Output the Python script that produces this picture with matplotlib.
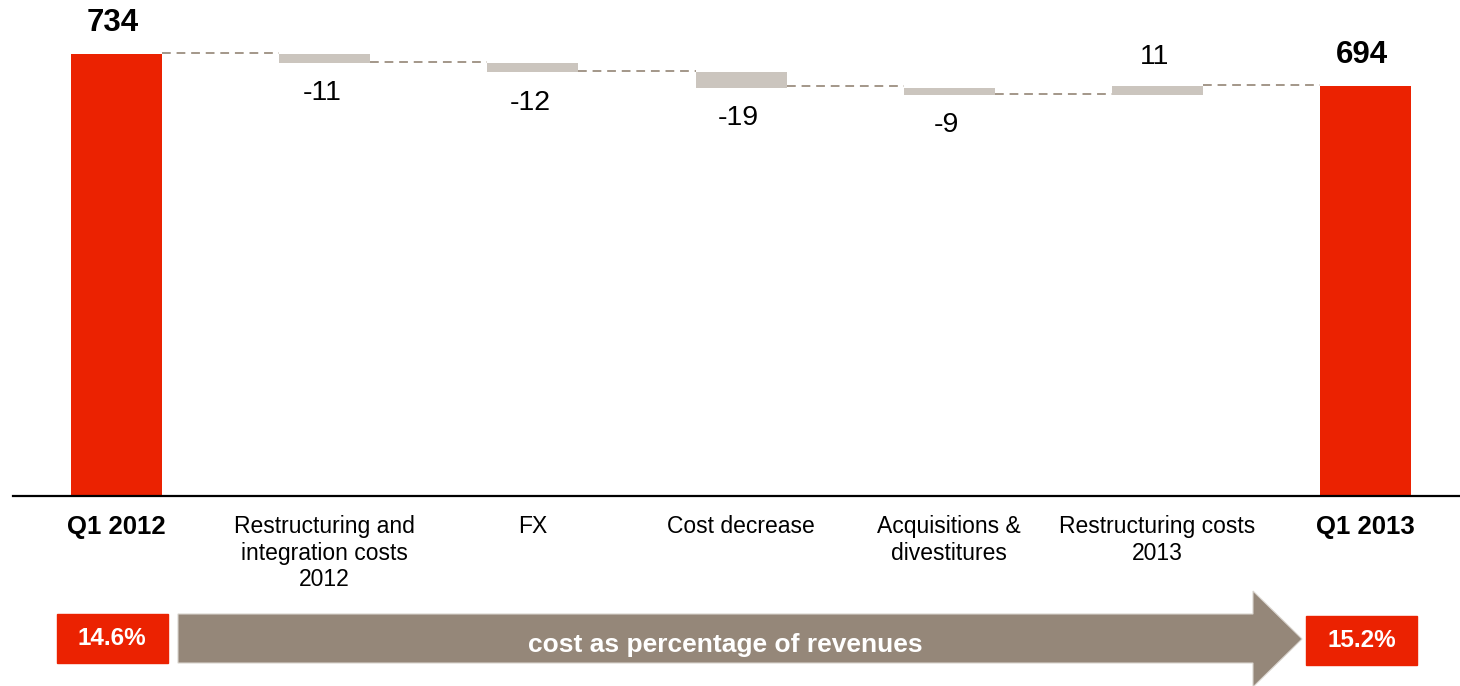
import numpy as np
import matplotlib
matplotlib.use('Agg')
import matplotlib.pyplot as plt
from matplotlib.patches import Rectangle, Polygon
from matplotlib import transforms

plt.rcParams['font.family'] = ['Liberation Sans', 'DejaVu Sans']

# --- data ---
categories = ["Q1 2012", "Restructuring and\nintegration costs\n2012", "FX",
              "Cost decrease", "Acquisitions &\ndivestitures",
              "Restructuring costs\n2013", "Q1 2013"]
start_value = 734
deltas = [-11, -12, -19, -9, 11]
end_value = 694
pct_labels = ["14.6%", "15.2%"]
arrow_text = "cost as percentage of revenues"

RED = '#EB2201'
GREY_BAR = '#CBC5BE'
DASH = '#A39789'
ARROW = '#958779'

fig = plt.figure(figsize=(14.6, 6.86), dpi=100)
W, H = 1460, 686
ax = fig.add_axes([13 / W, 1 - 496 / H, 1 - 13 / W, 496 / H])

x = np.arange(len(categories))
bw = 0.437

# totals
ax.bar(x[0], start_value, width=bw, color=RED, zorder=2)
ax.bar(x[-1], end_value, width=bw, color=RED, zorder=2)

level = start_value
levels = [start_value]
for i, d in enumerate(deltas, start=1):
    new = level + d
    ax.bar(x[i], abs(d), bottom=min(level, new), width=bw, color=GREY_BAR, zorder=2)
    off = -22 if d < 0 else 21
    ax.annotate(f"{d}", (x[i], new), xytext=(-2, off), textcoords='offset points',
                ha='center', va='center', fontsize=20.5)
    level = new
    levels.append(level)

# connectors
for i in range(len(categories) - 1):
    ax.plot([x[i] + bw / 2, x[i + 1] - bw / 2], [levels[i] + 1.5, levels[i] + 1.5],
            color=DASH, lw=1.4, dashes=(4.5, 3), zorder=1)

for xi, v in [(x[0], start_value), (x[-1], end_value)]:
    ax.annotate(f"{v}", (xi, v), xytext=(-3, 22), textcoords='offset points',
                ha='center', va='center', fontsize=22.5, fontweight='bold')

ax.set_xlim(-0.497, 6.453)
ax.set_ylim(181.5, 801.5)
ax.set_yticks([])
ax.set_xticks(x)
ax.set_xticklabels(categories, fontsize=16.5, linespacing=1.18)
for i in (0, len(categories) - 1):
    ax.get_xticklabels()[i].set_fontweight('bold')
    ax.get_xticklabels()[i].set_fontsize(18.5)
ax.tick_params(axis='x', length=0, pad=14)
for s in ['top', 'left', 'right']:
    ax.spines[s].set_visible(False)
ax.spines['bottom'].set_linewidth(1.6)
ax.spines['bottom'].set_zorder(3)

# percentage boxes under the total bars
tr = transforms.blended_transform_factory(ax.transData, fig.transFigure)
box_w = 111 / 208.2
box_h = 49 / H
for xi, lab, ytop in [(x[0], pct_labels[0], 614), (x[-1], pct_labels[1], 616)]:
    y0 = 1 - (ytop + 49) / H
    ax.add_patch(Rectangle((xi - 0.02 - box_w / 2, y0), box_w, box_h, transform=tr,
                           color=RED, clip_on=False))
    ax.text(xi - 0.02, y0 + box_h / 2, lab, transform=tr, ha='center', va='center',
            color='white', fontsize=17.5, fontweight='bold')

# arrow overlay in pixel coordinates
ov = fig.add_axes([0, 0, 1, 1], zorder=-1)
ov.set_xlim(0, W)
ov.set_ylim(H, 0)
ov.axis('off')
arrow_pts = [(178, 614), (1253, 614), (1253, 591), (1302, 639), (1253, 687),
             (1253, 663), (178, 663)]
ov.add_patch(Polygon(arrow_pts, closed=True, facecolor=ARROW, edgecolor='#D9D4CE', lw=0.8))
ov.text(725, 645, arrow_text, ha='center', va='center', color='white',
        fontsize=19, fontweight='bold')

fig.savefig('out.png', dpi=100)
